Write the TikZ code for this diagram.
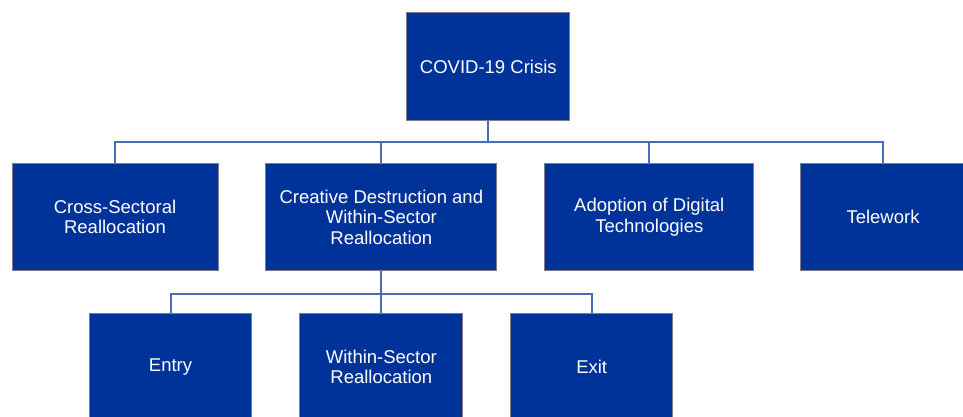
\documentclass[tikz,border=0pt]{standalone}
\usepackage{fontspec}
\setmainfont{Liberation Sans}
\definecolor{boxblue}{RGB}{0,51,153}
\definecolor{linkblue}{RGB}{70,110,180}
\definecolor{edgegray}{RGB}{125,125,140}

\tikzset{
    box/.style={rectangle, fill=boxblue, draw=edgegray, line width=0.8pt,
        text=white, align=center, inner sep=0pt,
        font=\fontsize{18.5}{20.5}\selectfont},
    link/.style={draw=linkblue, line width=2pt}
}

\begin{document}
\begin{tikzpicture}[x=1pt, y=-1pt]
        \useasboundingbox (0,0) rectangle (963,416);
        \clip (0,0) rectangle (963,416);

        % horní uzel
        \node[box, minimum width=163pt, minimum height=108pt] (covid) at (488.3,66.7) {COVID-19 Crisis};

        % druhá řada
        \node[box, minimum width=206pt, minimum height=107pt] (cross) at (115,217) {Cross-Sectoral\\Reallocation};
        \node[box, minimum width=231pt, minimum height=107pt] (creative) at (381.3,217) {Creative Destruction and\\Within-Sector\\Reallocation};
        \node[box, minimum width=209pt, minimum height=107pt] (digital) at (649.3,217) {Adoption of Digital\\Technologies};
        \node[box, minimum width=165pt, minimum height=107pt] (telework) at (883,217) {Telework};

        % třetí řada
        \node[box, minimum width=162pt, minimum height=107pt] (entry) at (170.5,367) {Entry};
        \node[box, minimum width=163pt, minimum height=107pt] (within) at (381.3,367) {Within-Sector\\Reallocation};
        \node[box, minimum width=162pt, minimum height=107pt] (exit) at (591.7,367) {Exit};

        % spojnice
        \coordinate (bus) at (488.3,142.3);
        \coordinate (subbus) at (381.3,293.5);

        \foreach \n in {cross, creative, digital, telework}
            \draw[link] (covid.south) -- (bus) -| (\n.north);

        \foreach \n in {entry, within, exit}
            \draw[link] (creative.south) -- (subbus) -| (\n.north);

\end{tikzpicture}
\end{document}
